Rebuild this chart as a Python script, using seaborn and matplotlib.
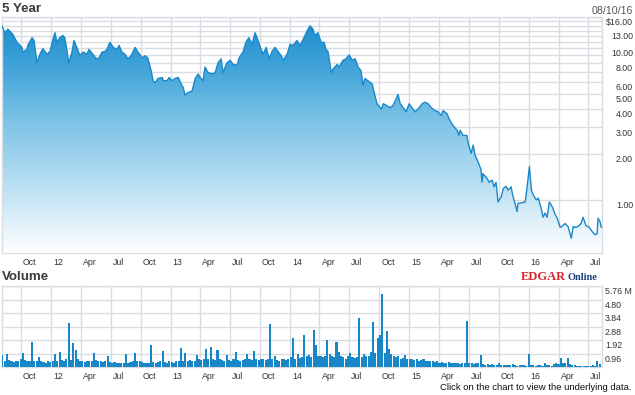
import numpy as np
import pandas as pd
import matplotlib
matplotlib.use("Agg")
import matplotlib.pyplot as plt
import matplotlib.dates as mdates
import matplotlib.transforms as mtransforms
from matplotlib.colors import LinearSegmentedColormap
from matplotlib.ticker import FixedLocator, FixedFormatter, NullLocator
import seaborn as sns

sns.set_style("white")
plt.rcParams["font.family"] = ["Liberation Sans", "DejaVu Sans"]

# ---------------------------------------------------------------------------
# data
# ---------------------------------------------------------------------------
price_dates = [
    "2011-08-04", "2011-08-13", "2011-08-22", "2011-09-06", "2011-09-19", "2011-10-04", "2011-10-07",
    "2011-10-19", "2011-10-22", "2011-11-04", "2011-11-10", "2011-11-19", "2011-11-28", "2011-12-07",
    "2011-12-20", "2011-12-29",
    "2012-01-07", "2012-01-13", "2012-01-19", "2012-01-28", "2012-02-06", "2012-02-12", "2012-02-18",
    "2012-02-24", "2012-03-05", "2012-03-11", "2012-03-20", "2012-03-29", "2012-04-08", "2012-04-20",
    "2012-04-26", "2012-05-08", "2012-05-17", "2012-05-26", "2012-06-05", "2012-06-14", "2012-06-20",
    "2012-06-29", "2012-07-09", "2012-07-21", "2012-07-27", "2012-08-05", "2012-08-14", "2012-08-23",
    "2012-09-02", "2012-09-14", "2012-09-23", "2012-10-06", "2012-10-14", "2012-10-23", "2012-11-02",
    "2012-11-08", "2012-11-14", "2012-11-23", "2012-12-06", "2012-12-09", "2012-12-21", "2012-12-27",
    "2013-01-05", "2013-01-14", "2013-01-24", "2013-02-02", "2013-02-08", "2013-02-14", "2013-02-23",
    "2013-03-07", "2013-03-17", "2013-03-26", "2013-04-01", "2013-04-10", "2013-04-16", "2013-04-25",
    "2013-05-08", "2013-05-17", "2013-05-26", "2013-06-04", "2013-06-10", "2013-06-22", "2013-07-02",
    "2013-07-11", "2013-07-23", "2013-07-29", "2013-08-10", "2013-08-19", "2013-08-28", "2013-09-07",
    "2013-09-16", "2013-09-22", "2013-10-02", "2013-10-11", "2013-10-20", "2013-10-29", "2013-11-07",
    "2013-11-16", "2013-11-25", "2013-12-05", "2013-12-11", "2013-12-23",
    "2014-01-01", "2014-01-10", "2014-01-22", "2014-02-01", "2014-02-10", "2014-02-16", "2014-02-25",
    "2014-03-03", "2014-03-12", "2014-03-18", "2014-03-27", "2014-04-06", "2014-04-15", "2014-04-21",
    "2014-04-27", "2014-05-07", "2014-05-13", "2014-05-25", "2014-05-31", "2014-06-12", "2014-06-21",
    "2014-07-01", "2014-07-10", "2014-07-19", "2014-07-28", "2014-08-06", "2014-08-12", "2014-08-18",
    "2014-08-27", "2014-09-09", "2014-09-15", "2014-09-24", "2014-10-07", "2014-10-13", "2014-10-22",
    "2014-11-03", "2014-11-12", "2014-11-21", "2014-11-27", "2014-12-04", "2014-12-13", "2014-12-22",
    "2014-12-31",
    "2015-01-12", "2015-01-18", "2015-01-27", "2015-02-09", "2015-02-18", "2015-02-27", "2015-03-09",
    "2015-03-21", "2015-03-30", "2015-04-08", "2015-04-14", "2015-04-26", "2015-05-03", "2015-05-12",
    "2015-05-21", "2015-05-27", "2015-06-01", "2015-06-05", "2015-06-14", "2015-06-26", "2015-06-30",
    "2015-07-09", "2015-07-15", "2015-07-21", "2015-07-30", "2015-08-08", "2015-08-11", "2015-08-14",
    "2015-08-26", "2015-09-02", "2015-09-11", "2015-09-17", "2015-09-23", "2015-09-29", "2015-10-09",
    "2015-10-15", "2015-10-24", "2015-10-30", "2015-11-08", "2015-11-14", "2015-11-20", "2015-11-26",
    "2015-11-29", "2015-12-12", "2015-12-21", "2015-12-27",
    "2016-01-03", "2016-01-09", "2016-01-15", "2016-01-24", "2016-01-30", "2016-02-08", "2016-02-14",
    "2016-02-20", "2016-02-26", "2016-03-04", "2016-03-13", "2016-03-22", "2016-03-28", "2016-04-06",
    "2016-04-15", "2016-04-21", "2016-04-30", "2016-05-10", "2016-05-16", "2016-05-22", "2016-05-31",
    "2016-06-09", "2016-06-15", "2016-06-24", "2016-07-04", "2016-07-13", "2016-07-22", "2016-07-28",
    "2016-07-31", "2016-08-06", "2016-08-10",
]
price_values = [
    14.0, 12.6, 13.3, 12.3, 10.9, 10.1, 9.4,
    9.8, 10.4, 11.7, 11.2, 8.0, 9.1, 9.9,
    9.1, 9.5,
    11.4, 12.6, 10.9, 11.7, 12.1, 11.7, 9.8,
    8.0, 9.4, 11.2, 10.1, 8.9, 9.4, 9.1,
    9.8, 9.1, 8.55, 8.55, 9.4, 9.5, 9.8,
    10.9, 10.1, 9.8, 10.4, 9.4, 9.1, 8.5,
    8.9, 10.1, 9.4, 8.6, 8.9, 8.6, 7.1,
    6.1, 5.9, 6.3, 6.4, 6.1, 6.1, 6.4,
    6.1, 6.3, 6.4, 5.8, 5.5, 4.9, 5.1,
    5.2, 6.3, 6.75, 6.4, 6.1, 7.5, 6.9,
    6.75, 6.9, 8.0, 8.5, 6.9, 8.0, 8.3,
    7.8, 7.7, 8.6, 9.4, 10.9, 11.7, 10.6,
    12.6, 11.7, 10.1, 9.1, 10.1, 8.5, 9.5,
    10.1, 9.5, 8.9, 8.3, 9.1,
    10.6, 10.4, 11.2, 10.4, 11.4, 12.1, 13.3,
    14.0, 13.3, 12.1, 12.6, 10.9, 10.9, 9.8,
    9.5, 6.9, 7.3, 7.8, 7.5, 8.3, 8.5,
    9.0, 8.3, 8.5, 7.5, 7.1, 5.7, 6.3,
    6.1, 5.8, 5.1, 4.3, 3.96, 4.3, 4.2,
    4.05, 4.2, 4.6, 4.95, 4.3, 4.05, 3.8,
    4.3,
    3.96, 3.8, 3.96, 4.3, 4.4, 4.3, 4.05,
    3.87, 3.8, 3.6, 3.87, 3.7, 3.4, 3.15,
    2.97, 2.88, 2.66, 2.88, 2.66, 2.66, 2.34,
    2.03, 2.3, 1.97, 1.78, 1.58, 1.31, 1.49,
    1.39, 1.31, 1.35, 1.22, 1.31, 0.97, 1.05,
    1.19, 1.23, 1.16, 1.22, 1.05, 0.95, 0.84,
    0.95, 0.96, 0.97, 1.22,
    1.66, 1.16, 1.08, 1.0, 1.03, 0.88, 0.77,
    0.82, 0.77, 0.97, 0.9, 0.8, 0.76, 0.66,
    0.68, 0.7, 0.67, 0.56, 0.67, 0.66, 0.67,
    0.7, 0.77, 0.68, 0.66, 0.62, 0.59, 0.6,
    0.76, 0.72, 0.66,
]

# weekly volume (millions of shares), weeks starting 2011-08-05
volume_start = "2011-08-05"
volume_values = [
    0.88, 0.45, 0.95, 0.5, 0.4, 0.35, 0.45, 0.4, 0.55, 1.0, 0.5, 0.45, 0.4,
    1.76, 0.45, 0.4, 0.7, 0.4, 0.35, 0.3, 0.4, 0.35, 0.45, 0.95, 0.4, 1.05,
    0.5, 0.4, 0.6, 3.13, 0.5, 1.7, 1.23, 0.6, 0.45, 0.4, 0.35, 0.4, 0.45,
    0.4, 1.0, 0.5, 0.45, 0.4, 0.35, 0.4, 0.8, 0.35, 0.3, 0.35, 0.3, 0.25,
    0.3, 0.25, 0.92, 0.3, 0.35, 0.4, 1.0, 0.45, 0.4, 0.35, 0.3, 0.25, 0.3,
    1.59, 0.35, 0.3, 0.35, 0.4, 1.15, 0.35, 0.3, 0.4, 0.35, 0.3, 0.4, 0.45,
    1.35, 0.4, 1.0, 0.45, 0.5, 0.45, 0.4, 0.88, 0.55, 0.5, 0.6, 1.28, 0.55,
    1.4, 0.6, 0.5, 1.23, 0.55, 0.5, 0.45, 0.85, 0.5, 0.45, 0.55, 1.05, 0.5,
    0.45, 0.5, 0.55, 0.95, 0.6, 0.5, 1.15, 0.55, 0.5, 0.6, 0.55, 0.5, 0.6,
    3.08, 0.55, 0.75, 0.5, 0.45, 0.55, 0.6, 0.5, 0.55, 0.7, 2.06, 0.6, 0.9,
    0.65, 0.7, 2.3, 0.8, 0.88, 0.7, 2.65, 1.6, 0.8, 0.8, 0.7, 0.75, 1.94,
    0.9, 0.8, 0.7, 1.8, 1.1, 0.8, 0.7, 0.6, 0.75, 1.0, 0.7, 0.65, 0.7,
    3.48, 0.7, 0.9, 0.75, 0.8, 1.1, 3.18, 1.0, 2.06, 2.3, 5.19, 1.0, 2.54,
    1.3, 0.9, 0.8, 0.7, 0.75, 0.6, 0.65, 0.88, 0.6, 0.55, 0.6, 0.5, 0.55,
    0.45, 0.5, 0.55, 0.45, 0.4, 0.45, 0.4, 0.35, 0.4, 0.3, 0.35, 0.3, 0.25,
    0.33, 0.3, 0.25, 0.3, 0.25, 0.2, 0.25, 0.3, 3.25, 0.3, 0.25, 0.2, 0.25,
    0.3, 0.88, 0.2, 0.15, 0.2, 0.15, 0.2, 0.15, 0.12, 0.3, 0.15, 0.12, 0.15,
    0.12, 0.15, 0.2, 0.12, 0.1, 0.15, 0.12, 0.15, 0.1, 0.95, 0.15, 0.12, 0.1,
    0.12, 0.15, 0.1, 0.28, 0.12, 0.15, 0.1, 0.2, 0.25, 0.2, 0.64, 0.3, 0.25,
    0.64, 0.2, 0.15, 0.12, 0.1, 0.08, 0.1, 0.08, 0.1, 0.08, 0.1, 0.12, 0.1,
    0.4, 0.2,
]

price_ticks = list(range(1, 17))
price_labels = {16: "$16.00", 13: "13.00", 10: "10.00", 8: "8.00", 6: "6.00",
                5: "5.00", 4: "4.00", 3: "3.00", 2: "2.00", 1: "1.00"}
volume_ticks = [0, 0.96, 1.92, 2.88, 3.84, 4.80, 5.76]
volume_labels = ["", "0.96", "1.92", "2.88", "3.84", "4.80", "5.76 M"]

# ---------------------------------------------------------------------------
# frames
# ---------------------------------------------------------------------------
price_df = pd.DataFrame({"date": pd.to_datetime(price_dates), "price": price_values})
vol_df = pd.DataFrame({
    "date": mdates.date2num(pd.date_range(volume_start, periods=len(volume_values), freq="7D")),
    "volume": volume_values,
})

LINE = "#1a88c9"
BAR = "#1787c7"
GRID = "#d9dde2"
TXT = "#333333"

x_lo, x_hi = pd.Timestamp("2011-08-04"), pd.Timestamp("2016-08-12")
y_lo, y_hi = 0.448, 16.0

W, H = 635, 395
fig = plt.figure(figsize=(W / 100, H / 100), dpi=100)
fig.patch.set_facecolor("white")


def px_axes(left, top, right, bottom):
    return fig.add_axes([left / W, 1 - bottom / H, (right - left) / W, (bottom - top) / H])


ax = px_axes(2, 17, 602, 253)
axv = px_axes(2, 286, 602, 367)

# ── price panel ──────────────────────────────────────────────────────────────
sns.lineplot(data=price_df, x="date", y="price", ax=ax, color=LINE, lw=1.0, zorder=3)
ax.set_yscale("log")
fill = ax.fill_between(price_df["date"], price_df["price"], y_lo,
                       facecolor="none", edgecolor="none")
ax.set_xlim(x_lo, x_hi)
ax.set_ylim(y_lo, y_hi)
ax.set_autoscale_on(False)

fade = LinearSegmentedColormap.from_list(
    "fade", [(0, "#ffffff"), (0.25, "#c2e3f4"), (0.55, "#7ec4e7"), (0.8, "#3ea2d8"), (1, "#1a8ac9")])
grad = np.linspace(0, 1, 256).reshape(-1, 1)
im = ax.imshow(grad, cmap=fade, extent=[0, 1, 0, 1], origin="lower",
               transform=ax.transAxes, aspect="auto", zorder=2)
im.set_clip_path(fill.get_paths()[0], transform=ax.transData)
ax.set_xlim(x_lo, x_hi)
ax.set_ylim(y_lo, y_hi)

ax.yaxis.set_major_locator(FixedLocator(price_ticks))
ax.yaxis.set_major_formatter(FixedFormatter([price_labels.get(t, "") for t in price_ticks]))
ax.yaxis.set_minor_locator(NullLocator())
ax.yaxis.tick_right()
ax.tick_params(axis="y", length=0, pad=22.3, labelsize=6.3, labelcolor=TXT)

# ── volume panel ─────────────────────────────────────────────────────────────
sns.histplot(data=vol_df, x="date", weights="volume", binwidth=7,
             binrange=(vol_df["date"].iloc[0] - 3.5, vol_df["date"].iloc[-1] + 3.5),
             shrink=0.9, color=BAR, alpha=1, linewidth=0, ax=axv, zorder=3)
axv.set_xlim(mdates.date2num(x_lo), mdates.date2num(x_hi))
axv.set_ylim(0, 5.76)
axv.yaxis.set_major_locator(FixedLocator(volume_ticks))
axv.yaxis.set_major_formatter(FixedFormatter(volume_labels))
axv.yaxis.tick_right()
axv.tick_params(axis="y", length=0, pad=2.2, labelsize=6.3, labelcolor=TXT)

# ── shared styling ───────────────────────────────────────────────────────────
quarters = pd.date_range("2011-10-01", "2016-07-01", freq="QS")
q_labels = [str(d.year)[2:] if d.month == 1 else d.strftime("%b") for d in quarters]
shift_right = mtransforms.ScaledTranslation(0.02, 0, fig.dpi_scale_trans)
shift_down = mtransforms.ScaledTranslation(0, -0.012, fig.dpi_scale_trans)

for a in (ax, axv):
    a.set_xticks(mdates.date2num(quarters))
    a.set_xticklabels(q_labels)
    a.tick_params(axis="x", length=0, pad=3.5, labelsize=6.3, labelcolor=TXT)
    a.set_xlabel("")
    a.set_ylabel("")
    a.grid(True, color=GRID, lw=1.0, zorder=0)
    a.set_axisbelow(True)
    for s in a.spines.values():
        s.set_color(GRID)
        s.set_linewidth(1.0)
    for lab in a.get_xticklabels():
        lab.set_ha("left")
        lab.set_transform(lab.get_transform() + shift_right)
    for lab in a.get_yticklabels():
        lab.set_va("top")
        lab.set_transform(lab.get_transform() + shift_down)

for lab in ax.get_yticklabels():
    lab.set_ha("right")

# ── texts ────────────────────────────────────────────────────────────────────
fig.text(2 / W, 1 - 9 / H, "5 Year", fontsize=9.6, fontweight="bold", color="#3a3a3a",
         ha="left", va="center")
fig.text(633 / W, 1 - 11 / H, "08/10/16", fontsize=7.7, color="#555555", ha="right", va="center")
fig.text(2 / W, 1 - 277 / H, "Volume", fontsize=9.6, fontweight="bold", color="#3a3a3a",
         ha="left", va="center")
fig.text(521 / W, 1 - 280 / H, "EDGAR", fontsize=9, fontweight="bold", color="#d9262b",
         family="Liberation Serif", ha="left", va="baseline")
fig.text(567 / W, 1 - 280 / H, "Online", fontsize=7.5, fontweight="bold", color="#1c3f73",
         family="Liberation Serif", ha="left", va="baseline")
fig.text(632 / W, 1 - 388 / H, "Click on the chart to view the underlying data.",
         fontsize=6.8, color="#111111", ha="right", va="center")

fig.savefig("out.png", dpi=100, facecolor="white")
